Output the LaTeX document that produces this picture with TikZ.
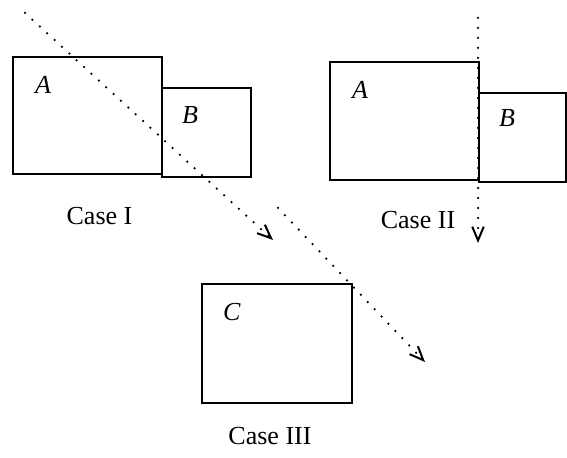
\documentclass[tikz,border=0pt]{standalone}
\usepackage{fontspec}
\setmainfont{Liberation Serif}
\usetikzlibrary{arrows.meta}

\begin{document}
\begin{tikzpicture}[x=0.4pt,y=0.4pt]
		\tikzstyle{every node}+=[inner sep=0pt, outer sep=0pt, font=\fontsize{10.4}{12}\selectfont]
		\tikzstyle{box}=[draw=black, line width=0.75pt, anchor=north west]
		\tikzstyle{ray}=[black, line width=1pt, line cap=round, dash pattern=on 0pt off 4pt, -{Straight Barb[length=5.5pt,width=4.6pt,line width=0.8pt]}]
		\useasboundingbox (0,0) rectangle (567,-458);
		% case I
		\node [box, minimum width=59.6pt, minimum height=46.8pt] (A1) at (13,-57) {};
		\node [box, minimum width=35.6pt, minimum height=35.6pt] (B1) at (162,-88) {};
		\draw (43,-85) node (tA1) {\textit{A}};
		\draw (190,-115) node (tB1) {\textit{B}};
		\draw (99.5,-225) node [anchor=base] (cI) {Case I};
		% case II
		\node [box, minimum width=59.6pt, minimum height=47.2pt] (A2) at (330,-62) {};
		\node [box, minimum width=34.8pt, minimum height=35.6pt] (B2) at (479,-93) {};
		\draw (360,-90) node (tA2) {\textit{A}};
		\draw (507,-118) node (tB2) {\textit{B}};
		\draw (418,-229) node [anchor=base] (cII) {Case II};
		% case III
		\node [box, minimum width=60pt, minimum height=47.6pt] (C3) at (202,-284) {};
		\draw (232,-312) node (tC3) {\textit{C}};
		\draw (270,-445) node [anchor=base] (cIII) {Case III};
		% rays
		\coordinate (s1) at (25,-13);
		\coordinate (e1) at (273,-240);
		\coordinate (s2) at (478,-18);
		\coordinate (e2) at (478,-243);
		\coordinate (s3) at (278,-208);
		\coordinate (e3) at (425,-362);
		\draw [ray] (s1) -- (e1);
		\draw [ray] (s2) -- (e2);
		\draw [ray] (s3) -- (e3);
\end{tikzpicture}
\end{document}
